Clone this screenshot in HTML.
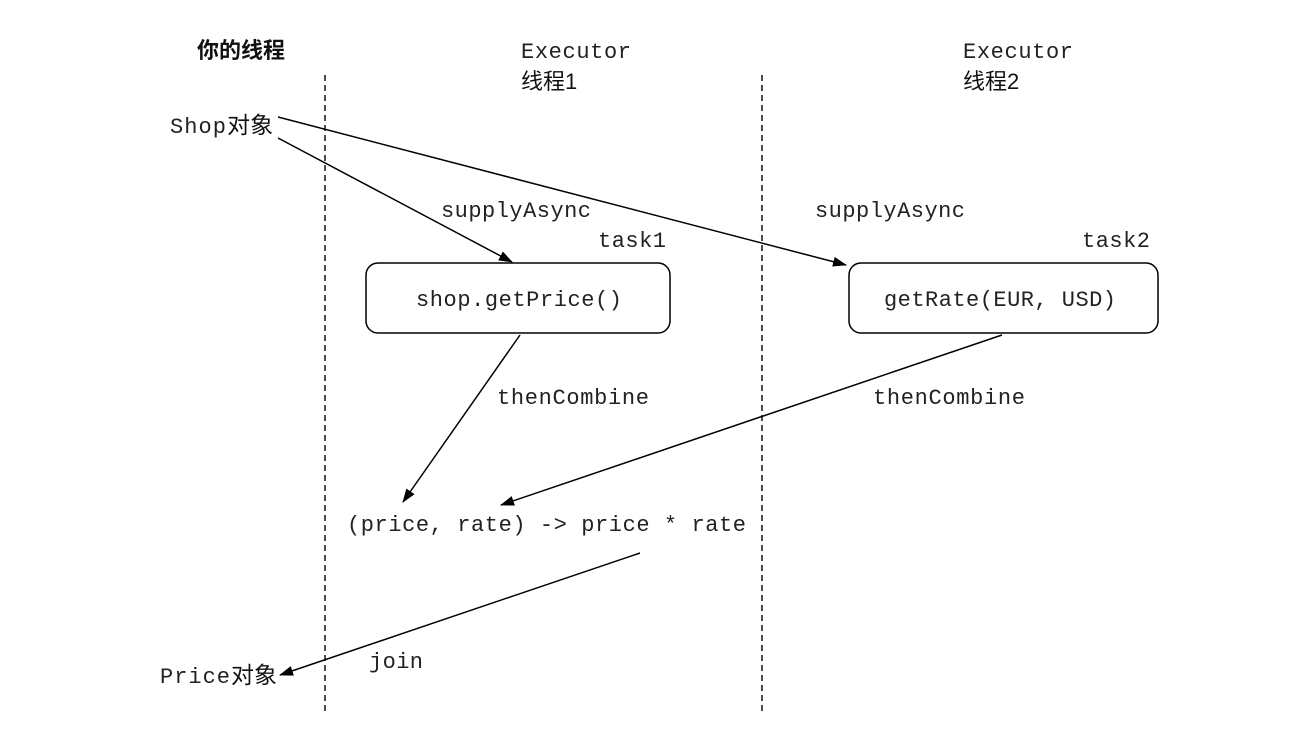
<!DOCTYPE html>
<html><head><meta charset="utf-8"><style>
html,body{margin:0;padding:0;background:#fff;}
svg{display:block;}
.m{font-family:"Liberation Mono",monospace;font-size:22px;fill:#222;}
.c{font-family:"Liberation Sans","Noto Sans CJK SC",sans-serif;font-size:22px;fill:#111;}
</style></head><body>
<svg width="1304" height="731" viewBox="0 0 1304 731" xmlns="http://www.w3.org/2000/svg">
<defs><marker id="a" markerWidth="14" markerHeight="10" refX="13" refY="5" orient="auto" markerUnits="userSpaceOnUse"><path d="M0,0 L14,5 L0,10 z" fill="#000"/></marker></defs>
<g stroke="#000" stroke-width="1.4" stroke-dasharray="6,4">
<line x1="325" y1="75" x2="325" y2="712"/>
<line x1="762" y1="75" x2="762" y2="712"/>
</g>
<text class="c" x="197" y="58" style="font-weight:bold">你的线程</text>
<text class="m" x="521" y="58" textLength="110">Executor</text>
<text class="c" x="521" y="89">线程1</text>
<text class="m" x="963" y="58" textLength="110">Executor</text>
<text class="c" x="963" y="89">线程2</text>
<text x="170" y="133"><tspan class="m" textLength="56">Shop</tspan><tspan class="c" style="font-size:23px">对象</tspan></text>
<g stroke="#000" stroke-width="1.5" fill="none">
<line x1="278" y1="138" x2="512" y2="262" marker-end="url(#a)"/>
<line x1="278" y1="117" x2="846" y2="265" marker-end="url(#a)"/>
<rect x="366" y="263" width="304" height="70" rx="12"/>
<rect x="849" y="263" width="309" height="70" rx="12"/>
<line x1="520" y1="335" x2="403" y2="502" marker-end="url(#a)"/>
<line x1="1002" y1="335" x2="501" y2="505" marker-end="url(#a)"/>
<line x1="640" y1="553" x2="280" y2="675" marker-end="url(#a)"/>
</g>
<text class="m" x="441" y="217" textLength="150">supplyAsync</text>
<text class="m" x="815" y="217" textLength="150">supplyAsync</text>
<text class="m" x="598" y="247" textLength="68">task1</text>
<text class="m" x="1082" y="247" textLength="68">task2</text>
<text class="m" x="416" y="306" textLength="206">shop.getPrice()</text>
<text class="m" x="884" y="306" textLength="232">getRate(EUR, USD)</text>
<text class="m" x="497" y="404" textLength="152">thenCombine</text>
<text class="m" x="873" y="404" textLength="152">thenCombine</text>
<text class="m" x="347" y="531" textLength="399">(price, rate) -&gt; price * rate</text>
<text class="m" x="369" y="668" textLength="54">join</text>
<text x="160" y="683"><tspan class="m" textLength="70">Price</tspan><tspan class="c" style="font-size:23px">对象</tspan></text>
</svg>
</body></html>
